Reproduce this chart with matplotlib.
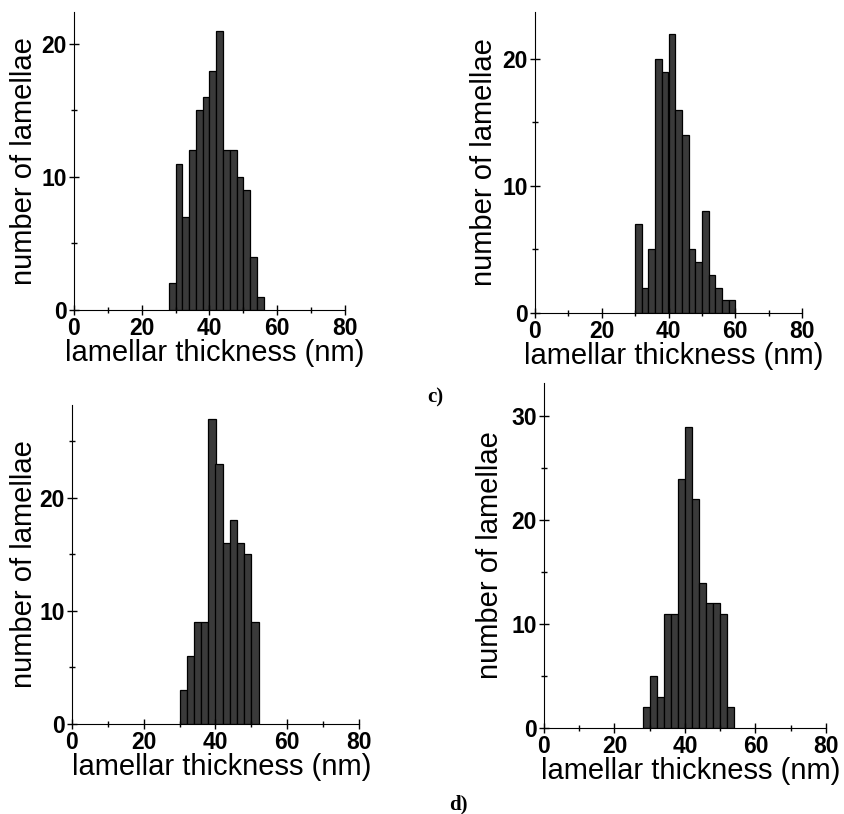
import numpy as np
import matplotlib
matplotlib.use('Agg')
import matplotlib.pyplot as plt
from matplotlib.ticker import MultipleLocator

plt.rcParams['font.family'] = ['Liberation Sans', 'DejaVu Sans']

# histogram data: left bin edge (nm) and counts, bin width 2 nm
edges_a = np.arange(28, 56, 2)
counts_a = [2, 11, 7, 12, 15, 16, 18, 21, 12, 12, 10, 9, 4, 1]

edges_b = np.arange(30, 60, 2)
counts_b = [7, 2, 5, 20, 19, 22, 16, 14, 5, 4, 8, 3, 2, 1, 1]

edges_c = np.arange(30, 52, 2)
counts_c = [3, 6, 9, 9, 27, 23, 16, 18, 16, 15, 9]

edges_d = np.arange(28, 54, 2)
counts_d = [2, 5, 3, 11, 11, 24, 29, 22, 14, 12, 12, 11, 2]

W, H = 845, 814
fig = plt.figure(figsize=(W / 100, H / 100), dpi=100)

# pixel boxes: left, right, top, bottom, ymax, ylabel x (px)
panels = [
    (edges_a, counts_a, 74, 345, 12, 310, 22.4, 38),
    (edges_b, counts_b, 535, 802, 12, 313, 23.7, 498),
    (edges_c, counts_c, 72, 359, 405, 724, 28.2, 38),
    (edges_d, counts_d, 544, 826, 383, 728, 33.2, 504),
]

for edges, counts, l, r, t, b, ymax, lab_x in panels:
    ax = fig.add_axes([l / W, 1 - b / H, (r - l) / W, (b - t) / H])
    ax.bar(edges, counts, width=2, align='edge', color='#3a3a3a',
           edgecolor='black', linewidth=0.9)
    ax.set_xlim(0, 80)
    ax.set_ylim(0, ymax)
    ax.spines['top'].set_visible(False)
    ax.spines['right'].set_visible(False)
    ax.xaxis.set_major_locator(MultipleLocator(20))
    ax.xaxis.set_minor_locator(MultipleLocator(10))
    ax.yaxis.set_major_locator(MultipleLocator(10))
    ax.yaxis.set_minor_locator(MultipleLocator(5))
    ax.tick_params(which='both', direction='inout', width=1)
    ax.tick_params(which='major', length=7, labelsize=16.5, pad=1.5)
    ax.tick_params(which='minor', length=5)
    for lab in ax.get_xticklabels() + ax.get_yticklabels():
        lab.set_fontweight('bold')
    ax.set_xlabel('lamellar thickness (nm)', fontsize=21)
    ax.set_ylabel('number of lamellae', fontsize=21)
    ax.xaxis.set_label_coords(0.52, -29 / (b - t))
    ax.yaxis.set_label_coords((lab_x - l) / (r - l), 0.5)

fig.text(435 / W, 1 - 397 / H, 'c)', family='Liberation Serif', weight='bold',
         fontsize=15, ha='center', va='center')
fig.text(458 / W, 1 - 804 / H, 'd)', family='Liberation Serif', weight='bold',
         fontsize=15, ha='center', va='center')

fig.savefig('out.png', dpi=100)
